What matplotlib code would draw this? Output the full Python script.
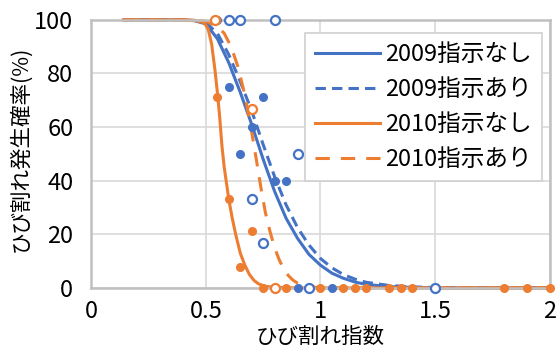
import matplotlib
matplotlib.use("Agg")
import matplotlib.pyplot as plt

plt.rcParams['font.family'] = ['Noto Sans CJK JP', 'DejaVu Sans']

BLUE = '#4472C4'
ORANGE = '#ED7D31'

# fitted curves (crack index -> cracking probability %)
x_09_nashi = [0.14, 0.40, 0.45, 0.50, 0.55, 0.60, 0.65, 0.70, 0.75, 0.80, 0.85, 0.90,
              0.95, 1.00, 1.05, 1.10, 1.15, 1.20, 1.30, 1.40, 1.50, 2.00]
y_09_nashi = [100, 100, 99.7, 98.5, 93, 84, 73, 61, 48, 36, 26, 18.5,
              12.5, 8.5, 5.5, 3.6, 2.2, 1.3, 0.5, 0.2, 0, 0]

x_09_ari = [0.14, 0.40, 0.45, 0.50, 0.55, 0.60, 0.65, 0.70, 0.75, 0.80, 0.85, 0.90,
            0.95, 1.00, 1.05, 1.10, 1.15, 1.20, 1.30, 1.40, 1.50, 1.70, 2.00]
y_09_ari = [100, 100, 99.8, 99, 95, 87, 77, 66, 53.5, 41.5, 31, 22.5,
            16, 11, 7.5, 5, 3.3, 2.1, 0.9, 0.4, 0.15, 0, 0]

x_10_nashi = [0.14, 0.40, 0.45, 0.49, 0.50, 0.51, 0.525, 0.54, 0.55, 0.56, 0.57, 0.58,
              0.59, 0.60, 0.615, 0.63, 0.65, 0.67, 0.69, 0.71, 0.73, 0.76, 0.80, 0.90, 2.00]
y_10_nashi = [100, 100, 99.8, 99, 98, 96.5, 91, 81, 73, 64, 53, 45,
              39, 33, 26, 20, 13, 8.5, 5, 2.8, 1.5, 0.6, 0.2, 0, 0]

x_10_ari = [0.14, 0.45, 0.50, 0.55, 0.58, 0.61, 0.64, 0.67, 0.70, 0.72, 0.74, 0.76,
            0.78, 0.80, 0.82, 0.84, 0.86, 0.88, 0.90, 0.93, 0.96, 1.00, 1.10, 2.00]
y_10_ari = [100, 100, 99.5, 97.5, 95, 90, 82.5, 72, 58, 48, 37.5, 28,
            21, 15, 10.5, 7, 4.6, 2.9, 1.8, 0.8, 0.3, 0.1, 0, 0]

# measured points
px_09_nashi = [0.55, 0.60, 0.75, 0.70, 0.65, 0.80, 0.85, 0.90, 1.05]
py_09_nashi = [100, 75, 71.4, 60, 50, 40, 40, 0, 0]

px_09_ari = [0.60, 0.65, 0.80, 0.90, 0.70, 0.75, 0.95, 1.50]
py_09_ari = [100, 100, 100, 50, 33.3, 16.7, 0, 0]

px_10_nashi = [0.55, 0.60, 0.70, 0.65, 0.75, 0.85, 1.00, 1.10, 1.15, 1.20,
               1.30, 1.35, 1.40, 1.80, 1.90, 2.00]
py_10_nashi = [71.4, 33.3, 21.4, 7.7, 0, 0, 0, 0, 0, 0,
               0, 0, 0, 0, 0, 0]

px_10_ari = [0.54, 0.70, 0.80]
py_10_ari = [100, 66.7, 0]

fig = plt.figure(figsize=(5.57, 3.49), dpi=100)
ax = fig.add_axes([0.164, 0.175, 0.8226, 0.768])

lw = 2.2
ax.plot(x_09_nashi, y_09_nashi, color=BLUE, lw=lw, label='2009指示なし', clip_on=False)
ax.plot(x_09_ari, y_09_ari, color=BLUE, lw=lw, ls=(0, (3.4, 2.0)), label='2009指示あり', clip_on=False)
ax.plot(x_10_nashi, y_10_nashi, color=ORANGE, lw=lw, label='2010指示なし', clip_on=False)
ax.plot(x_10_ari, y_10_ari, color=ORANGE, lw=lw, ls=(0, (4.7, 3.6)), label='2010指示あり', clip_on=False)

ax.plot(px_09_nashi, py_09_nashi, 'o', color=BLUE, ms=5.5, clip_on=False, zorder=5)
ax.plot(px_09_ari, py_09_ari, 'o', mfc='white', mec=BLUE, mew=1.6, ms=6.5, clip_on=False, zorder=5)
ax.plot(px_10_nashi, py_10_nashi, 'o', color=ORANGE, ms=5.5, clip_on=False, zorder=5)
ax.plot(px_10_ari, py_10_ari, 'o', mfc='white', mec=ORANGE, mew=1.6, ms=6.5, clip_on=False, zorder=5)

ax.set_xlim(0, 2)
ax.set_ylim(0, 100)
ax.set_xticks([0, 0.5, 1, 1.5, 2])
ax.set_xticklabels(['0', '0.5', '1', '1.5', '2'])
ax.set_yticks([0, 20, 40, 60, 80, 100])
ax.tick_params(axis='both', length=0, labelsize=17)
ax.tick_params(axis='y', pad=13)
ax.tick_params(axis='x', pad=9)

ax.grid(True, color='#D9D9D9', lw=1.2)
ax.set_axisbelow(True)
for s in ax.spines.values():
    s.set_color('#C0C0C0')
    s.set_linewidth(1.8)

ax.set_xlabel('ひび割れ指数', fontsize=15.5)
ax.xaxis.set_label_coords(0.5, -0.142)
ax.set_ylabel('ひび割れ発生確率(%)', fontsize=15.5)
ax.yaxis.set_label_coords(-0.13, 0.52)

leg = ax.legend(loc='upper right', bbox_to_anchor=(0.984, 0.952), fontsize=17,
                handlelength=2.75, labelspacing=0.5, borderpad=0.45, borderaxespad=0,
                handletextpad=0.2, fancybox=False, framealpha=1)
leg.get_frame().set_edgecolor('#D0D0D0')
leg.get_frame().set_linewidth(1.2)

fig.savefig('out.png', dpi=100)
